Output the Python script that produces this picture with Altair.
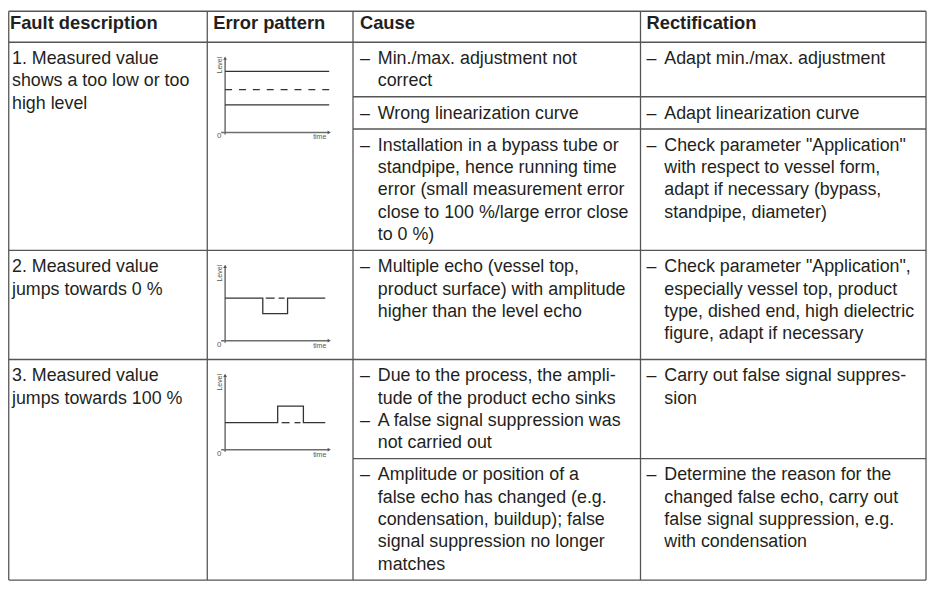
import altair as alt
import pandas as pd

# ---------------- data ----------------
headers = ["Fault description", "Error pattern", "Cause", "Rectification"]

faults = [
    ["1. Measured value", "shows a too low or too", "high level"],
    ["2. Measured value", "jumps towards 0 %"],
    ["3. Measured value", "jumps towards 100 %"],
]

causes = [
    [
        ["– Min./max. adjustment not", "correct"],
        ["– Wrong linearization curve"],
        ["– Installation in a bypass tube or", "standpipe, hence running time",
         "error (small measurement error", "close to 100 %/large error close", "to 0 %)"],
    ],
    [
        ["– Multiple echo (vessel top,", "product surface) with amplitude",
         "higher than the level echo"],
    ],
    [
        ["– Due to the process, the ampli-", "tude of the product echo sinks",
         "– A false signal suppression was", "not carried out"],
        ["– Amplitude or position of a", "false echo has changed (e.g.",
         "condensation, buildup); false", "signal suppression no longer", "matches"],
    ],
]

fixes = [
    [
        ["– Adapt min./max. adjustment"],
        ["– Adapt linearization curve"],
        ["– Check parameter \"Application\"", "with respect to vessel form,",
         "adapt if necessary (bypass,", "standpipe, diameter)"],
    ],
    [
        ["– Check parameter \"Application\",", "especially vessel top, product",
         "type, dished end, high dielectric", "figure, adapt if necessary"],
    ],
    [
        ["– Carry out false signal suppres-", "sion"],
        ["– Determine the reason for the", "changed false echo, carry out",
         "false signal suppression, e.g.", "with condensation"],
    ],
]

# mini error-pattern charts (time 0..1 along x axis, level 0..1 along y axis)
p1_levels = [0.80, 0.56, 0.36]
p1_dashed = [False, True, False]
p2_time = [0.0, 0.362, 0.362, 0.600, 0.600, 0.962]
p2_level = [0.557, 0.557, 0.354, 0.354, 0.557, 0.557]
p2_gap_time = [[0.390, 0.476], [0.514, 0.571]]
p2_gap_level = 0.557
p3_time = [0.0, 0.505, 0.505, 0.752, 0.752, 0.962]
p3_level = [0.354, 0.354, 0.570, 0.570, 0.354, 0.354]
p3_gap_time = [[0.543, 0.619], [0.667, 0.724]]
p3_gap_level = 0.354

# ---------------- layout ----------------
OFF = 8
W, H = 928, 584
COLS = [4, 209, 356, 646, 934]
HEAD_TOP, HEAD_BOT = 3, 40
LINE_H = 22.5
PAD_T = 17
PAD_B = 15.5
MINI_H = 77
MINI_TOP = 14
MINI_BOT = 19

def sub_height(n):
    return PAD_T + (n - 1) * LINE_H + PAD_B

ROW_BOUNDS = []
top = HEAD_BOT
MINI_TB = []
for r in range(3):
    subs = [max(len(c), len(f)) for c, f in zip(causes[r], fixes[r])]
    bounds = [top]
    for n in subs:
        bounds.append(bounds[-1] + sub_height(n))
    T = top + MINI_TOP
    B = T + MINI_H
    MINI_TB.append((T, B))
    if bounds[-1] < B + MINI_BOT:
        bounds[-1] = B + MINI_BOT
    ROW_BOUNDS.append(bounds)
    top = bounds[-1]
TABLE_BOT = top

TXT_COLOR = "#231f20"
LINE_COLOR = "#555555"
HEAD_X = [10, 215, 363, 652]
HEAD_Y = 20.5
C1_X = 12
DASH_X = {2: 363, 3: 652}
IND = 18
MX0, MX1 = 227, 332

vis = lambda v: max(v, OFF + 0.75)
bot = min(TABLE_BOT, OFF + H - 0.75)

# border rules
rules = []
for x in COLS:
    rules.append(dict(x=vis(x), x2=vis(x), y=vis(HEAD_TOP), y2=bot))
for yy in [vis(HEAD_TOP), HEAD_BOT] + [b[0] for b in ROW_BOUNDS[1:]] + [bot]:
    rules.append(dict(x=vis(COLS[0]), x2=COLS[-1], y=yy, y2=yy))
for bounds in ROW_BOUNDS:
    for b in bounds[1:-1]:
        rules.append(dict(x=COLS[2], x2=COLS[-1], y=b, y2=b))
rules_df = pd.DataFrame(rules)

# text
head_df = pd.DataFrame(dict(x=HEAD_X, y=[HEAD_Y] * 4, t=headers))
body = []
for r, lines in enumerate(faults):
    top = ROW_BOUNDS[r][0]
    for i, s in enumerate(lines):
        body.append(dict(x=C1_X, y=top + PAD_T + i * LINE_H, t=s))
for col, table in ((2, causes), (3, fixes)):
    for r, subs in enumerate(table):
        for k, lines in enumerate(subs):
            top = ROW_BOUNDS[r][k]
            for i, s in enumerate(lines):
                y = top + PAD_T + i * LINE_H
                if s.startswith("– "):
                    body.append(dict(x=DASH_X[col], y=y, t="–"))
                    body.append(dict(x=DASH_X[col] + IND, y=y, t=s[2:]))
                else:
                    body.append(dict(x=DASH_X[col] + IND, y=y, t=s))
body_df = pd.DataFrame(body)

# mini charts
def px(t):
    return MX0 + t * (MX1 - MX0)

def py(lv, k):
    T, B = MINI_TB[k]
    return B - lv * (B - T)

solid, dashed, gaps = [], [], []
for lv, d in zip(p1_levels, p1_dashed):
    seg = dict(x=px(0), x2=px(1.0), y=py(lv, 0), y2=py(lv, 0))
    (dashed if d else solid).append(seg)
paths = []
for k, (tt, ll) in enumerate(((p2_time, p2_level), (p3_time, p3_level)), start=1):
    for o, (t, l) in enumerate(zip(tt, ll)):
        paths.append(dict(x=px(t), y=py(l, k), o=o, s=k))
for k, (gt, gl) in enumerate(((p2_gap_time, p2_gap_level), (p3_gap_time, p3_gap_level)), start=1):
    for a, b in gt:
        gaps.append(dict(x=px(a), x2=px(b), y=py(gl, k), y2=py(gl, k)))
solid_df = pd.DataFrame(solid)
dashed_df = pd.DataFrame(dashed)
gaps_df = pd.DataFrame(gaps)
paths_df = pd.DataFrame(paths)

axes, ups, rights, zeros, times, levels = [], [], [], [], [], []
for T, B in MINI_TB:
    axes.append(dict(x=MX0, x2=MX0, y=T + 2, y2=B + 2))
    axes.append(dict(x=MX0 - 4, x2=MX1 - 1, y=B, y2=B))
    ups.append(dict(x=MX0, y=T + 2))
    rights.append(dict(x=MX1, y=B))
    zeros.append(dict(x=MX0 - 6, y=B + 4, t="0"))
    times.append(dict(x=MX1 - 3, y=B + 5, t="time"))
    levels.append(dict(x=MX0 - 5, y=T + 9, t="Level"))
axes_df = pd.DataFrame(axes)

X = lambda f="x": alt.X(f"{f}:Q", scale=alt.Scale(domain=[OFF, OFF + W], range=[0, W], nice=False, zero=False), axis=None)
Y = lambda f="y": alt.Y(f"{f}:Q", scale=alt.Scale(domain=[OFF, OFF + H], range=[0, H], nice=False, zero=False), axis=None)

def seg_layer(df, **kw):
    return alt.Chart(df).mark_rule(**kw).encode(x=X(), x2="x2:Q", y=Y(), y2="y2:Q")

layers = [
    seg_layer(rules_df, color=LINE_COLOR, strokeWidth=1.3),
    alt.Chart(head_df).mark_text(align="left", baseline="middle", fontSize=18.5, fontWeight="bold",
                                 font="Liberation Sans", color=TXT_COLOR).encode(x=X(), y=Y(), text="t:N"),
    alt.Chart(body_df).mark_text(align="left", baseline="middle", fontSize=18,
                                 font="Liberation Sans", color=TXT_COLOR).encode(x=X(), y=Y(), text="t:N"),
    seg_layer(axes_df, color="#6d6d6d", strokeWidth=1.5),
    alt.Chart(pd.DataFrame(ups)).mark_point(shape="triangle-up", filled=True, size=14, color="#555",
                                            opacity=1).encode(x=X(), y=Y()),
    alt.Chart(pd.DataFrame(rights)).mark_point(shape="triangle-right", filled=True, size=14, color="#555",
                                               opacity=1).encode(x=X(), y=Y()),
    seg_layer(solid_df, color="#333333", strokeWidth=1.3),
    seg_layer(dashed_df, color="#333333", strokeWidth=1.3, strokeDash=[7, 7]),
    seg_layer(gaps_df, color="#333333", strokeWidth=1.3),
    alt.Chart(paths_df).mark_line(color="#333333", strokeWidth=1.3).encode(
        x=X(), y=Y(), order="o:Q", detail="s:N"),
    alt.Chart(pd.DataFrame(zeros)).mark_text(align="center", baseline="middle", fontSize=8,
                                             font="Liberation Sans", color="#555").encode(x=X(), y=Y(), text="t:N"),
    alt.Chart(pd.DataFrame(times)).mark_text(align="right", baseline="middle", fontSize=7,
                                             font="Liberation Sans", color="#555").encode(x=X(), y=Y(), text="t:N"),
    alt.Chart(pd.DataFrame(levels)).mark_text(align="center", baseline="middle", fontSize=7, angle=270,
                                              font="Liberation Sans", color="#555").encode(x=X(), y=Y(), text="t:N"),
]

chart = alt.layer(*layers).properties(
    width=W, height=H, autosize=alt.AutoSizeParams(type="none"), padding=0, background="white"
).configure_view(stroke=None)

chart.save("out.html", embed_options={"renderer": "svg", "actions": False})
